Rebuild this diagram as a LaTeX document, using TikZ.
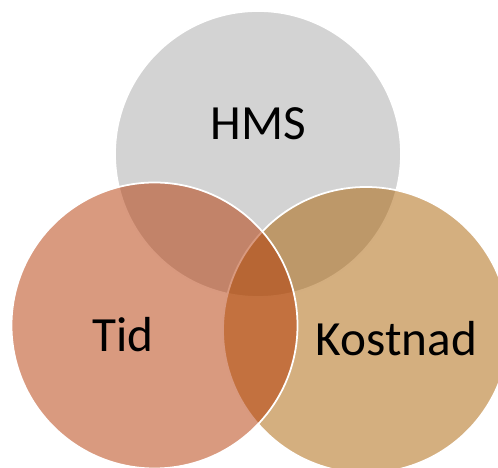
\documentclass[tikz,border=0pt]{standalone}
\usepackage{fontspec}
\setmainfont{Carlito}
\usepackage{tikz}
\usetikzlibrary{positioning}
\definecolor{grahms}{RGB}{211,211,211}
\definecolor{rodtid}{RGB}{179,53,0}
\definecolor{brunkost}{RGB}{169,95,0}

\begin{document}
\begin{tikzpicture}[
    krets/.style={circle, draw=white, line width=1pt, minimum size=5.72cm, inner sep=0pt},
    etikett/.style={font=\fontsize{28}{34}\selectfont, inner sep=0pt}
  ]
  \useasboundingbox (0,0) rectangle (9.96,9.36);
  \clip (0,0) rectangle (9.96,9.36);
  % Sirkler (Tid ligger over Kostnad)
  \node[krets, fill=grahms] (hms) at (5.16,6.28) {};
  \node[krets, fill=brunkost, fill opacity=0.5] (kostnad) at (7.32,2.76) {};
  \node[krets, fill=rodtid, fill opacity=0.5] (tid) at (3.09,2.85) {};

  % Tekst
  \node[etikett] (hmstekst) at (5.17,6.88) {HMS};
  \node[etikett] (tidtekst) at (2.46,2.66) {Tid};
  \node[etikett] (kosttekst) at (7.93,2.59) {Kostnad};
\end{tikzpicture}
\end{document}
